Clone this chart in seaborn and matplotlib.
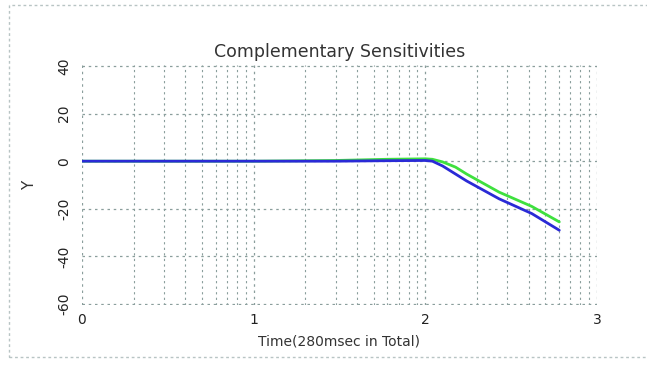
import matplotlib
matplotlib.use("Agg")
import matplotlib.pyplot as plt
import seaborn as sns
import pandas as pd
from matplotlib.ticker import FixedLocator, FixedFormatter, LogLocator, NullFormatter
from matplotlib.patches import Rectangle

# data (x in time samples, log axis; labels are decade exponents)
blue_time = [1, 10, 30, 60, 100, 110, 126, 174, 269, 417, 603]
blue_vals = [0, 0, 0, 0.2, 0.3, 0, -2, -8.3, -15.8, -22, -29]
green_time = [1, 10, 30, 60, 100, 110, 126, 150, 174, 269, 417, 603]
green_vals = [0, 0, 0.3, 0.8, 1.0, 0.8, -0.3, -2.5, -5.4, -13, -19, -25.5]
x_ticks = [1, 10, 100, 1000]
x_tick_labels = ["0", "1", "2", "3"]
y_ticks = [40, 20, 0, -20, -40, -60]
y_tick_labels = ["40", "20", "0", "-20", "-40", "-60"]
title = "Complementary Sensitivities"
xlabel = "Time(280msec in Total)"
ylabel = "Y"

sns.set_theme(style="white")
plt.rcParams["font.family"] = ["DejaVu Sans"]

fig = plt.figure(figsize=(6.47, 3.65), dpi=100)
ax = fig.add_axes([82 / 647, 60 / 365, 515 / 647, 240 / 365])

df_b = pd.DataFrame({"t": blue_time, "y": blue_vals})
df_g = pd.DataFrame({"t": green_time, "y": green_vals})
sns.lineplot(data=df_g, x="t", y="y", ax=ax, color="#3ee03e", linewidth=2.0)
sns.lineplot(data=df_b, x="t", y="y", ax=ax, color="#2a2ad6", linewidth=2.0)

ax.set_xscale("log")
ax.set_xlim(1, 1000)
ax.set_ylim(-60.4, 40.4)
ax.xaxis.set_major_locator(FixedLocator(x_ticks))
ax.xaxis.set_major_formatter(FixedFormatter(x_tick_labels))
ax.xaxis.set_minor_locator(LogLocator(base=10, subs=range(2, 10)))
ax.xaxis.set_minor_formatter(NullFormatter())
ax.yaxis.set_major_locator(FixedLocator(y_ticks))
ax.yaxis.set_major_formatter(FixedFormatter(y_tick_labels))

gcol = "#8a9e9c"
ax.grid(True, which="major", axis="both", color=gcol, linestyle=(0, (2, 3)), linewidth=0.9)
ax.grid(True, which="minor", axis="x", color=gcol, linestyle=(0, (2, 3)), linewidth=0.8)
ax.set_axisbelow(True)
for s in ax.spines.values():
    s.set_visible(False)
ax.tick_params(axis="both", which="both", length=0, labelsize=10, colors="#222222")
ax.tick_params(axis="x", pad=6)
ax.tick_params(axis="y", pad=8)
for lab in ax.get_yticklabels():
    lab.set_rotation(90)
    lab.set_va("center")

ax.set_title(title, fontsize=12.5, color="#333333", pad=6)
ax.set_xlabel(xlabel, fontsize=10, color="#333333", labelpad=5)
ax.set_ylabel(ylabel, fontsize=11, color="#333333", labelpad=14)

fig.patches.append(Rectangle((9 / 647, 8 / 365), 660 / 647, 352 / 365, transform=fig.transFigure,
                             fill=False, edgecolor="#b8c4c4", linestyle=(0, (2, 2)), linewidth=1.0))

fig.savefig("out.png", dpi=100)
